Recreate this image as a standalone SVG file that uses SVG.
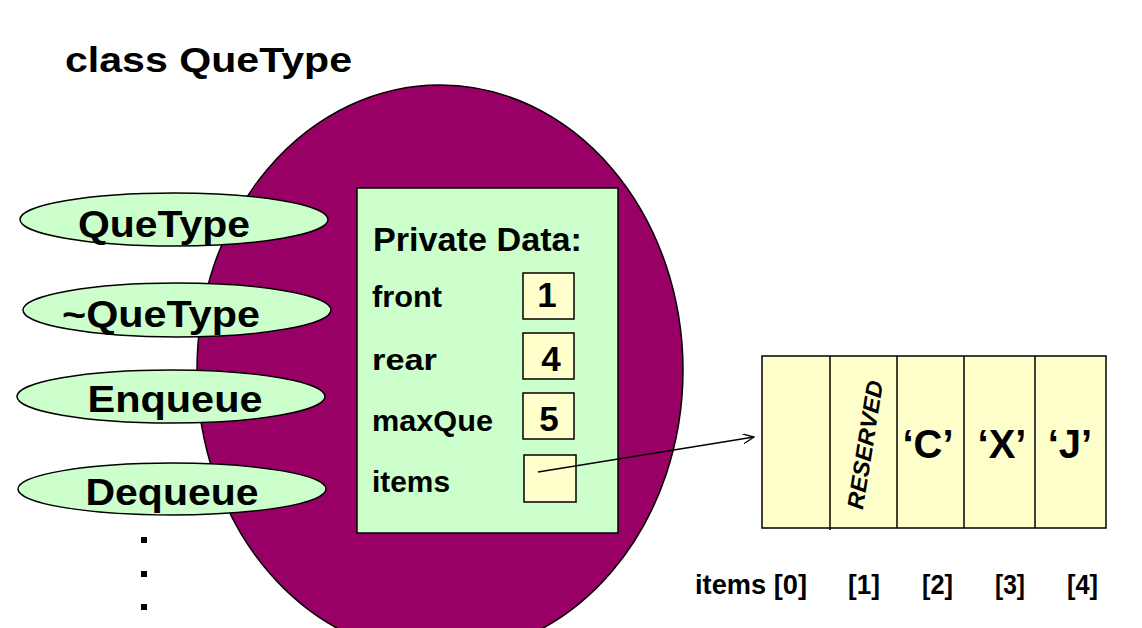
<svg xmlns="http://www.w3.org/2000/svg" width="1142" height="628" viewBox="0 0 1142 628">
<style>
text{font-family:"Liberation Sans",Arial,sans-serif;font-weight:bold;fill:#000}
.method{fill:#ccffcc;stroke:#000;stroke-width:1.5}
.mt{font-size:37px;text-anchor:middle}
.lbl{font-size:30px}
.num{font-size:35px;text-anchor:middle}
.val{fill:#ffffcc;stroke:#000;stroke-width:1.5}
.cell{fill:#ffffcc;stroke:#000;stroke-width:1.5}
.ch{font-size:40px;text-anchor:middle}
.idx{font-size:28px}
.dot{fill:#000}
</style>
<defs>
<marker id="arr" viewBox="0 0 12 10" refX="11" refY="5" markerWidth="12" markerHeight="10" markerUnits="userSpaceOnUse" orient="auto">
<path d="M0,0 L11,5 L0,10" fill="none" stroke="#000" stroke-width="1.3"/>
</marker>
</defs>
<rect width="1142" height="628" fill="#fff"/>
<text id="title" x="65" y="72" font-size="35" textLength="287" lengthAdjust="spacingAndGlyphs">class QueType</text>
<g id="class-body">
<ellipse cx="440" cy="370" rx="243" ry="285" fill="#990066" stroke="#000" stroke-width="1.5"/>
</g>
<g id="m-quetype">
<ellipse class="method" cx="174" cy="219.5" rx="154" ry="26.5"/>
<text class="mt" x="164" y="237" textLength="172" lengthAdjust="spacingAndGlyphs">QueType</text>
</g>
<g id="m-dtor">
<ellipse class="method" cx="177" cy="310" rx="154" ry="27"/>
<text class="mt" x="161" y="327" textLength="198" lengthAdjust="spacingAndGlyphs">~QueType</text>
</g>
<g id="m-enqueue">
<ellipse class="method" cx="171" cy="396.5" rx="154" ry="26.5"/>
<text class="mt" x="175" y="412" textLength="175" lengthAdjust="spacingAndGlyphs">Enqueue</text>
</g>
<g id="m-dequeue">
<ellipse class="method" cx="172" cy="489" rx="154" ry="26"/>
<text class="mt" x="172" y="505" textLength="173" lengthAdjust="spacingAndGlyphs">Dequeue</text>
</g>
<g id="more">
<rect class="dot" x="141" y="537" width="6" height="6"/>
<rect class="dot" x="141" y="571" width="6" height="6"/>
<rect class="dot" x="141" y="604" width="6" height="6"/>
</g>
<g id="private-data">
<rect x="357" y="188" width="261" height="345" fill="#ccffcc" stroke="#000" stroke-width="1.5"/>
<text x="373" y="251" font-size="33" textLength="209" lengthAdjust="spacingAndGlyphs">Private Data:</text>
<text class="lbl" x="372" y="307" textLength="70" lengthAdjust="spacingAndGlyphs">front</text>
<text class="lbl" x="372" y="370" textLength="65" lengthAdjust="spacingAndGlyphs">rear</text>
<text class="lbl" x="372" y="431" textLength="121" lengthAdjust="spacingAndGlyphs">maxQue</text>
<text class="lbl" x="372" y="492" textLength="78" lengthAdjust="spacingAndGlyphs">items</text>
<rect class="val" x="523" y="273" width="51" height="46"/>
<text class="num" x="547" y="307">1</text>
<rect class="val" x="523" y="333" width="51" height="46"/>
<text class="num" x="551" y="371">4</text>
<rect class="val" x="523" y="393" width="51" height="46"/>
<text class="num" x="549" y="431">5</text>
<rect class="val" x="524" y="455" width="52" height="47"/>
</g>
<g id="array">
<rect class="cell" x="762" y="356" width="344" height="172"/>
<line x1="830" y1="356" x2="830" y2="530" stroke="#000" stroke-width="1.5"/>
<line x1="897" y1="356" x2="897" y2="528" stroke="#000" stroke-width="1.5"/>
<line x1="964" y1="356" x2="964" y2="528" stroke="#000" stroke-width="1.5"/>
<line x1="1035" y1="356" x2="1035" y2="528" stroke="#000" stroke-width="1.5"/>
<text x="0" y="0" font-size="23" font-style="italic" text-anchor="middle" transform="translate(873,446) rotate(-81)" textLength="130" lengthAdjust="spacingAndGlyphs">RESERVED</text>
<text class="ch" x="928" y="458">‘C’</text>
<text class="ch" x="1002" y="458">‘X’</text>
<text class="ch" x="1070" y="458">‘J’</text>
<text class="idx" x="695" y="594" textLength="112" lengthAdjust="spacingAndGlyphs">items [0]</text>
<text class="idx" x="848" y="594" textLength="32" lengthAdjust="spacingAndGlyphs">[1]</text>
<text class="idx" x="922" y="594" textLength="31" lengthAdjust="spacingAndGlyphs">[2]</text>
<text class="idx" x="995" y="594" textLength="30" lengthAdjust="spacingAndGlyphs">[3]</text>
<text class="idx" x="1067" y="594" textLength="31" lengthAdjust="spacingAndGlyphs">[4]</text>
</g>
<g id="connectors">
<line x1="538" y1="472" x2="754" y2="437" stroke="#000" stroke-width="1.3" marker-end="url(#arr)"/>
</g>
</svg>
